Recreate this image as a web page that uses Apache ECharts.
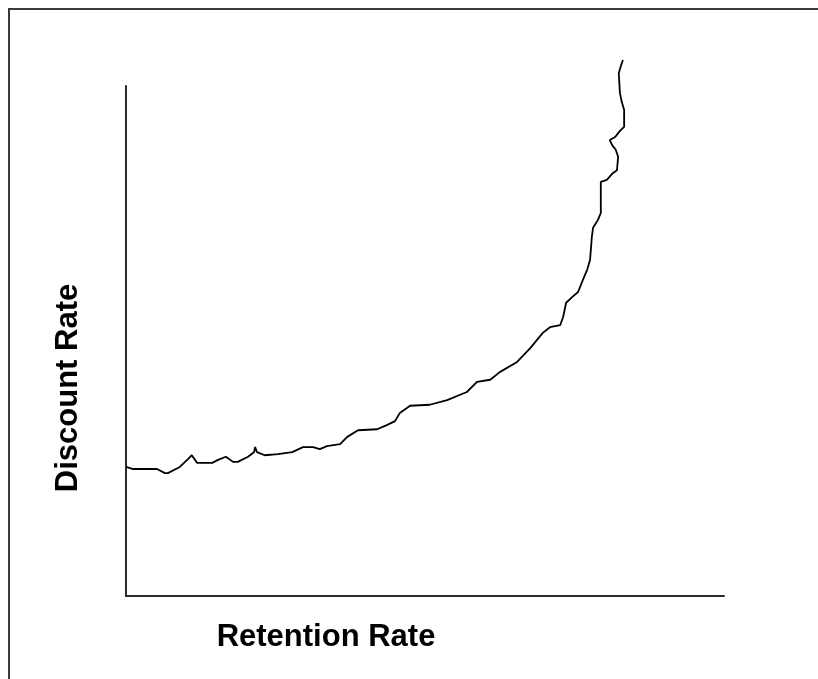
<!DOCTYPE html>
<html>
<head>
<meta charset="utf-8">
<script src="https://cdn.jsdelivr.net/npm/echarts@6/dist/echarts.min.js"></script>
<style>
html,body{margin:0;padding:0;background:#fff;}
#chart{width:818px;height:679px;}
</style>
</head>
<body>
<div id="chart"></div>
<script>
// Retention rate (x) and discount rate (y), in axis units 0..100
const retention = [0, 1.2, 5.2, 6.5, 7.0, 9.0, 10.4, 11.0, 11.9, 14.4, 15.4, 16.7, 17.9, 18.7, 20.4, 21.4, 21.6, 21.9, 23.2, 25.4, 27.8, 29.6, 31.3, 32.4, 33.6, 35.8, 37.0, 38.8, 42.0, 43.6, 45.0, 45.8, 47.5, 50.8, 53.7, 57.0, 58.7, 60.9, 62.5, 65.4, 67.6, 69.7, 70.9, 72.6, 73.1, 73.6, 74.6, 75.6, 76.4, 77.1, 77.6, 77.9, 78.1, 78.9, 79.4, 79.4, 80.4, 81.4, 82.1, 82.3, 81.9, 81.3, 80.9, 81.8, 82.6, 83.3, 83.3, 82.9, 82.6, 82.4, 82.8, 83.1];
const discount = [25.3, 24.9, 24.9, 24.1, 24.1, 25.3, 26.9, 27.6, 26.1, 26.1, 26.7, 27.3, 26.3, 26.3, 27.3, 28.2, 29.2, 28.2, 27.6, 27.8, 28.2, 29.2, 29.2, 28.8, 29.4, 29.8, 31.2, 32.5, 32.7, 33.5, 34.3, 35.9, 37.3, 37.5, 38.4, 40.0, 42.0, 42.4, 43.9, 45.9, 48.6, 51.6, 52.7, 53.1, 54.7, 57.5, 58.6, 59.6, 62.0, 63.9, 65.9, 70.4, 72.2, 73.7, 75.1, 81.2, 81.6, 82.9, 83.5, 86.1, 87.5, 88.4, 89.4, 90.0, 91.2, 92.0, 95.3, 96.9, 98.6, 102.5, 104.1, 105.1];
const xTitle = 'Retention Rate';
const yTitle = 'Discount Rate';

const points = retention.map((x, i) => [x, discount[i]]);

const chart = echarts.init(document.getElementById('chart'));
const axisLine = { show: true, lineStyle: { color: '#2a2a2a', width: 2 } };
chart.setOption({
  animation: false,
  backgroundColor: '#fff',
  grid: { left: 126, right: 94, top: 86, bottom: 83 },
  xAxis: {
    type: 'value', min: 0, max: 100,
    axisLine: axisLine, axisTick: { show: false }, axisLabel: { show: false }, splitLine: { show: false }
  },
  yAxis: {
    type: 'value', min: 0, max: 100,
    axisLine: axisLine, axisTick: { show: false }, axisLabel: { show: false }, splitLine: { show: false }
  },
  graphic: [
    { type: 'rect', shape: { x: 9, y: 9, width: 900, height: 800 }, style: { fill: 'none', stroke: '#3a3a3a', lineWidth: 2 }, silent: true },
    { type: 'text', x: 326, y: 637, style: { text: xTitle, fill: '#000', font: 'bold 31px "Liberation Sans", Arial, sans-serif', align: 'center', verticalAlign: 'middle', textAlign: 'center', textVerticalAlign: 'middle' } },
    { type: 'text', x: 68, y: 388, rotation: Math.PI / 2, style: { text: yTitle, fill: '#000', font: 'bold 31px "Liberation Sans", Arial, sans-serif', align: 'center', verticalAlign: 'middle', textAlign: 'center', textVerticalAlign: 'middle' } }
  ],
  series: [{
    type: 'line', data: points, showSymbol: false, symbol: 'none', clip: false,
    lineStyle: { color: '#000', width: 1.8 }
  }]
});
</script>
</body>
</html>
